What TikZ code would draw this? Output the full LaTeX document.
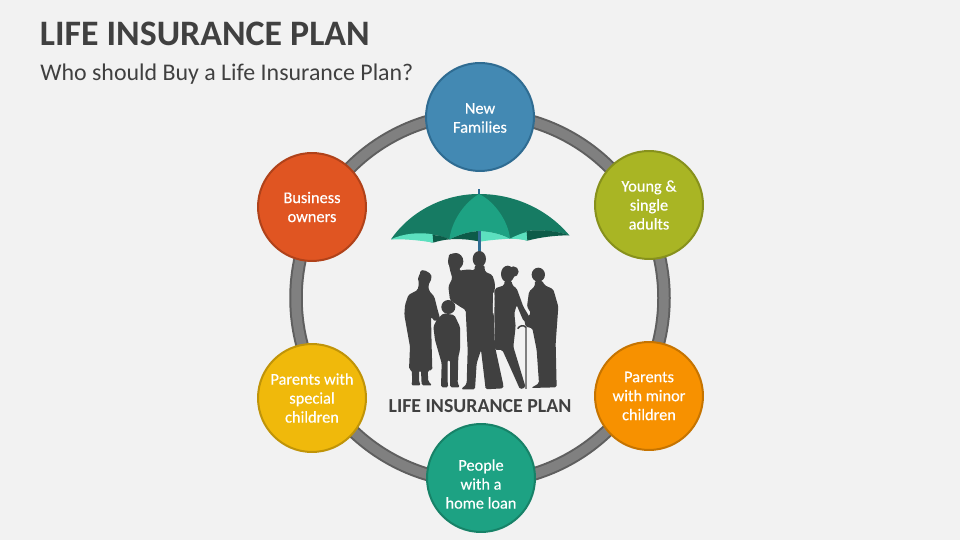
\documentclass[tikz,border=0pt]{standalone}
\usepackage{fontspec}
\setmainfont{Carlito}
\newfontfamily\bubblefont[FakeBold=0.35]{Carlito}
\definecolor{bgpage}{HTML}{F2F2F2}
\definecolor{inktext}{HTML}{404040}
\definecolor{ringfill}{HTML}{808080}
\definecolor{ringedge}{HTML}{5F5F5F}
\definecolor{blueA}{HTML}{4389B3}\definecolor{blueB}{HTML}{2F6C92}
\definecolor{limeA}{HTML}{A9B524}\definecolor{limeB}{HTML}{87911C}
\definecolor{orngA}{HTML}{F79100}\definecolor{orngB}{HTML}{C67400}
\definecolor{tealA}{HTML}{1DA283}\definecolor{tealB}{HTML}{178268}
\definecolor{yellA}{HTML}{F0B90B}\definecolor{yellB}{HTML}{C09408}
\definecolor{redA}{HTML}{E05522}\definecolor{redB}{HTML}{B0421A}
\definecolor{umbDark}{HTML}{167B63}
\definecolor{umbDeep}{HTML}{0D5B48}
\definecolor{umbMint}{HTML}{5CE0BF}
\definecolor{umbPole}{HTML}{2F6C92}
\tikzset{
  bubble/.style={circle,draw=#1B,fill=#1A,line width=0.04cm,minimum size=2.16cm,inner sep=0pt},
  bubbletext/.style={inner sep=0pt,align=center,text=white,font=\bubblefont\fontsize{9.3}{10.8}\selectfont},
  person/.style={fill=inktext,draw=none,rounded corners=0.9pt},
}
\begin{document}
\begin{tikzpicture}[x=0.02cm,y=-0.02cm]
  \useasboundingbox[fill=bgpage] (0,0) rectangle (960,540);

  % Headings
  \node[anchor=west,inner sep=0pt,text=inktext,font=\fontsize{20.4}{24}\selectfont\bfseries] (title) at (39.5,34) {LIFE INSURANCE PLAN};
  \node[anchor=west,inner sep=0pt,text=inktext,font=\fontsize{13.6}{16}\selectfont] (subtitle) at (40,74) {Who should Buy a Life Insurance Plan?};

  % Ring behind the bubbles
  \coordinate (hub) at (480,298);
  \draw[ringedge,line width=0.27cm] (hub) circle (184);
  \draw[ringfill,line width=0.19cm] (hub) circle (184);

  % Bubbles
  \foreach \nm/\px/\py/\dy/\col/\txt in {
    newfam/480/117/1/blue/{New\\Families},
    young/649/205/0/lime/{Young \&\\single\\adults},
    minor/649/396/0/orng/{Parents\\with minor\\children},
    loan/481/478/6/teal/{People\\with a\\home loan},
    special/312/398/0/yell/{Parents with\\special\\children},
    owners/312/207/0/red/{Business\\owners}} {
    \node[bubble=\col] (\nm) at (\px,\py) {};
    \node[bubbletext] (\nm txt) at (\px,\py+\dy) {\txt};
  }

  % Umbrella
  \begin{scope}[shift={(380,180)},x=0.00667cm,y=-0.00667cm]
    \draw[umbPole,line width=0.05cm] (297,28) -- (297,50);
    \fill[umbDark] (33,178) .. controls (90,95) and (190,42) .. (297,42)
      .. controls (400,42) and (500,85) .. (568,166)
      .. controls (520,150) and (470,150) .. (440,153) -- (442,182)
      .. controls (425,176) and (405,174) .. (390,176)
      .. controls (360,160) and (330,154) .. (297,153)
      .. controls (265,154) and (235,165) .. (208,178)
      .. controls (190,170) and (175,166) .. (158,165) -- (158,188)
      .. controls (115,175) and (70,172) .. (33,178) -- cycle;
    \fill[umbMint] (33,178) .. controls (70,160) and (120,156) .. (158,163)
      -- (160,188) .. controls (115,180) and (70,177) .. (33,178) -- cycle;
    \fill[umbDeep] (158,165) .. controls (175,166) and (195,170) .. (208,178)
      .. controls (190,180) and (175,183) .. (160,188) -- cycle;
    \fill[umbDeep] (208,178) .. controls (235,165) and (265,154) .. (300,153)
      -- (300,185) .. controls (270,178) and (235,176) .. (208,178) -- cycle;
    \fill[umbMint] (300,153) .. controls (330,154) and (365,162) .. (390,176)
      .. controls (360,178) and (330,180) .. (300,185) -- cycle;
    \fill[umbMint] (390,176) .. controls (405,168) and (425,160) .. (440,156)
      -- (442,182) .. controls (425,178) and (405,176) .. (390,176) -- cycle;
    \fill[umbDeep] (440,153) .. controls (480,148) and (530,152) .. (568,166)
      .. controls (525,166) and (480,172) .. (442,182) -- cycle;
    \fill[tealA] (297,42) .. controls (250,70) and (215,125) .. (208,178)
      .. controls (235,165) and (265,154) .. (297,153)
      .. controls (330,154) and (365,162) .. (390,176)
      .. controls (385,125) and (345,65) .. (297,42) -- cycle;
    \draw[umbPole,line width=0.05cm] (299,153) -- (299,218);
  \end{scope}

  % Family
  \begin{scope}[shift={(395,250)},x=0.00667cm,y=-0.00667cm]
    \draw[line width=0.03cm,gray] (393,232) -- (393,416);
    \draw[line width=0.03cm,inktext] (368,236) .. controls (375,226) and (385,224) .. (393,232);
    % grandmother
    \fill[person] (75,62) -- (88,60) -- (108,72) -- (110,86) -- (100,105) -- (102,122)
      -- (118,140) -- (128,180) -- (135,205) -- (120,215) -- (108,200) -- (110,290)
      -- (112,360) -- (98,362) -- (100,395) -- (112,406) -- (80,406) -- (78,362)
      -- (72,362) -- (72,395) -- (78,406) -- (48,406) -- (52,395) -- (50,360) -- (42,358)
      -- (45,290) -- (28,195) -- (30,165) -- (40,135) -- (68,120) -- (72,100) -- (68,82)
      -- (75,75) -- cycle;
    % boy
    \fill[person] (160,171) circle (21);
    \fill[person] (145,190) -- (178,195) -- (195,230) -- (195,300) -- (190,320)
      -- (188,400) -- (195,412) -- (165,412) -- (165,330) -- (158,330) -- (158,400)
      -- (160,412) -- (138,412) -- (140,340) -- (120,270) -- (115,230) -- (125,210) -- cycle;
    % father with child
    \fill[person] (253,27) ellipse (20 and 24);
    \fill[person] (182,34) ellipse (23 and 25);
    \fill[person] (162,12) -- (190,10) -- (205,28) -- (192,62) -- (222,58) -- (238,62)
      -- (240,45) -- (268,45) -- (270,65) -- (292,75) -- (300,100) -- (296,190) -- (300,290)
      -- (325,405) -- (325,415) -- (272,418) -- (258,300) -- (245,340) -- (240,418)
      -- (198,418) -- (215,402) -- (218,300) -- (212,180) -- (195,170) -- (165,150)
      -- (160,110) -- (172,85) -- (165,60) -- (160,35) -- cycle;
    % mother
    \fill[person] (338,72) ellipse (20 and 25);
    \fill[person] (355,65) circle (16);
    \fill[person] (328,92) -- (350,92) -- (352,106) -- (365,115) -- (385,170) -- (410,212)
      -- (405,222) -- (385,212) -- (365,165) -- (358,190) -- (362,230) -- (355,290)
      -- (392,412) -- (375,418) -- (338,335) -- (322,300) -- (300,300) -- (298,190)
      -- (300,115) -- (328,106) -- cycle;
    \draw[bgpage,line width=0.02cm] (296,128) -- (295,190);
    % grandfather
    \fill[person] (430,74) ellipse (20 and 21);
    \fill[person] (420,92) -- (442,92) -- (448,105) -- (475,118) -- (490,170) -- (482,280)
      -- (485,412) -- (408,414) -- (432,400) -- (425,300) -- (412,235) -- (392,230)
      -- (388,210) -- (408,190) -- (396,170) -- (402,125) -- (420,108) -- cycle;
  \end{scope}

  \node[inner sep=0pt,text=inktext,font=\fontsize{11.3}{13}\selectfont\bfseries] (caption) at (480,406) {LIFE INSURANCE PLAN};
\end{tikzpicture}
\end{document}
